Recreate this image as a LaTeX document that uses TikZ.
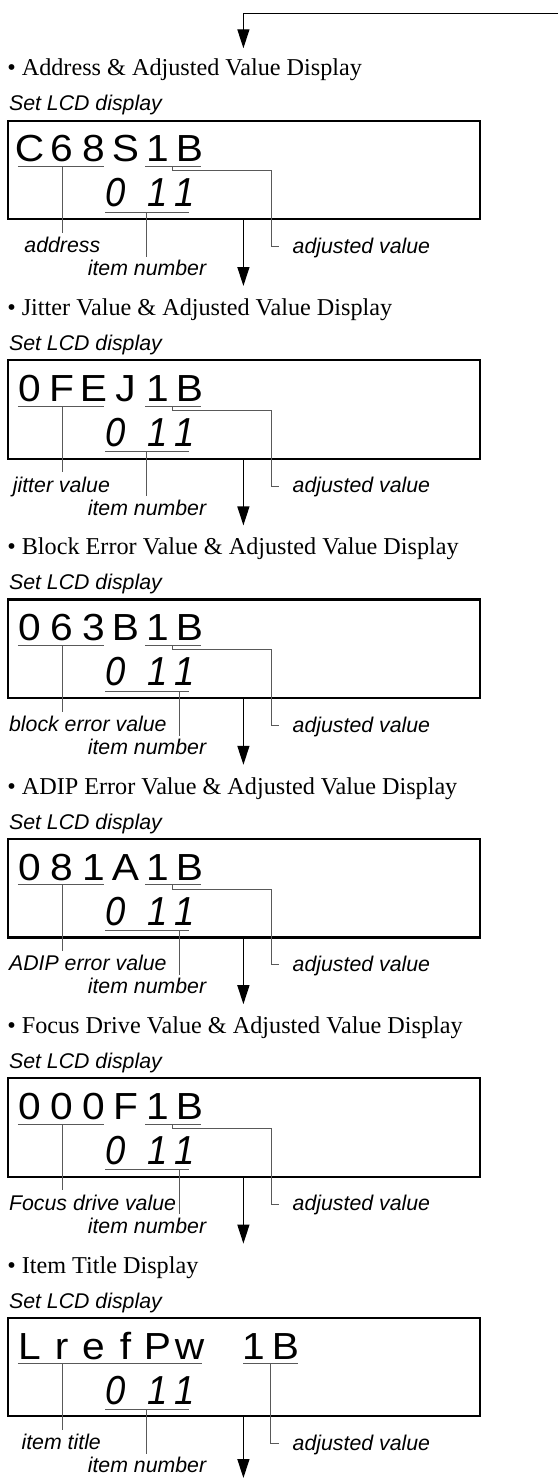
\documentclass[tikz,border=0pt]{standalone}
\usepackage{fontspec}
\setmainfont{Liberation Serif}
\newfontfamily\labfont{Liberation Sans}
\newfontfamily\lcdfont[FakeStretch=1.08]{Liberation Sans}
\newfontfamily\segfont[FakeStretch=0.9]{Liberation Sans}
\usetikzlibrary{arrows.meta}
\newcommand\lcdc[1]{\makebox[32pt][c]{#1}}
\newcommand\segline{\makebox[27.3pt][c]{0}\hspace{14.6pt}\makebox[27.3pt][c]{1}\makebox[27.3pt][c]{1}}
\tikzset{
  head/.style={font=\fontsize{24.2}{28}\selectfont, inner sep=0pt},
  lab/.style={font=\labfont\itshape\fontsize{21.3}{24}\selectfont, inner sep=0pt},
  lcd/.style={font=\lcdfont\fontsize{37.7}{40}\selectfont, inner sep=0pt},
  seg/.style={font=\segfont\itshape\fontsize{40.5}{44}\selectfont, inner sep=0pt},
  lcdbox/.style={draw, line width=2.2pt, inner sep=0pt, outer sep=0pt, minimum width=471.9pt, minimum height=98.6pt, anchor=north west},
  uline/.style={draw=black!65, line width=1pt},
  leader/.style={draw=black!65, line width=1pt},
  flow/.style={draw, line width=1.3pt, -{Triangle[length=19pt,width=12pt]}},
}
% #1 prefix, #2 T, #3 heading, #4 lcd line, #5 left label options, #6 left label, #7 item leader x, #8 arrow tip y
\newcommand\lcdblock[8]{%
\begin{scope}[yshift=-#2pt]
  \node[head, anchor=base west] (#1h) at (7.1,-44.7) {• #3};
  \node[lab, anchor=base west] (#1s) at (8.9,-9.7) {Set LCD display};
  \node[lcdbox] (#1b) at (7.8,0) {};
  \node[lcd, anchor=base west] (#1l) at (13.35,41.3) {#4};
  \node[seg, anchor=base west] (#1n) at (102,86.3) {\segline};
  \draw[uline] (105,91.6) -- (189.3,91.6);
  \coordinate (#1p) at (62.3,46);
  \coordinate (#1pe) at (62.3,112);
  \draw[leader] (#1p) -- (#1pe);
  \node[lab, #5] (#1L) {#6};
  \coordinate (#1q) at (#7,91.6);
  \coordinate (#1qe) at (#7,136);
  \draw[leader] (#1q) -- (#1qe);
  \node[lab, anchor=base] (#1N) at (147,155) {item number};
  \node[lab, anchor=base west] (#1A) at (292.5,132.6) {adjusted value};
  \coordinate (#1ae) at (279.4,126);
  \coordinate (#1tip) at (243.4,#8);
  \draw[flow] (#1b.south -| #1tip) -- (#1tip);
\end{scope}}
\newcommand\stdunder[2]{%
\begin{scope}[yshift=-#2pt]
  \draw[uline] (17.8,46) -- (103.9,46);
  \draw[uline] (145.2,46) -- (201.1,46);
  \coordinate (#1as) at (172.6,46);
  \draw[leader] (#1as) -- (172.6,50.3) -| (271.2,126) -- (#1ae);
\end{scope}}
\begin{document}
\begin{tikzpicture}[x=1pt,y=-1pt]
\useasboundingbox (0,0) rectangle (558,1479);
\coordinate (start) at (558,13.3);
\coordinate (tip0) at (243.4,48.3);
\draw[flow] (start) -| (tip0);

\lcdblock{a}{120.7}{Address \& Adjusted Value Display}{\lcdc{C}\lcdc{6}\lcdc{8}\lcdc{S}\lcdc{1}\lcdc{B}}{anchor=base, at={(62.3,132)}}{address}{146.6}{165.3}
\stdunder{a}{120.7}

\lcdblock{b}{360.1}{Jitter Value \& Adjusted Value Display}{\lcdc{0}\lcdc{F}\lcdc{E}\lcdc{J}\lcdc{1}\lcdc{B}}{anchor=base, at={(61.4,132)}}{jitter value}{146.6}{165.3}
\stdunder{b}{360.1}

\lcdblock{c}{599.5}{Block Error Value \& Adjusted Value Display}{\lcdc{0}\lcdc{6}\lcdc{3}\lcdc{B}\lcdc{1}\lcdc{B}}{anchor=base west, at={(8.9,132)}}{block error value}{179.7}{165.3}
\stdunder{c}{599.5}

\lcdblock{d}{838.9}{ADIP Error Value \& Adjusted Value Display}{\lcdc{0}\lcdc{8}\lcdc{1}\lcdc{A}\lcdc{1}\lcdc{B}}{anchor=base west, at={(8.9,132)}}{ADIP error value}{179.7}{165.3}
\stdunder{d}{838.9}

\lcdblock{e}{1078.3}{Focus Drive Value \& Adjusted Value Display}{\lcdc{0}\lcdc{0}\lcdc{0}\lcdc{F}\lcdc{1}\lcdc{B}}{anchor=base west, at={(8.9,132)}}{Focus drive value}{179.7}{165.3}
\stdunder{e}{1078.3}

\lcdblock{f}{1317.7}{Item Title Display}{\lcdc{L}\lcdc{r}\lcdc{e}\lcdc{f}\lcdc{P}\lcdc{w}\lcdc{}\lcdc{1}\lcdc{B}}{anchor=base, at={(61.2,132)}}{item title}{146.6}{160.3}
\begin{scope}[yshift=-1317.7pt]
  \draw[uline] (17.8,46) -- (201.8,46);
  \draw[uline] (243,46) -- (298.2,46);
  \coordinate (fas) at (270.5,46);
  \draw[leader] (fas) -- (270.5,126) -- (fae);
\end{scope}
\end{tikzpicture}
\end{document}
